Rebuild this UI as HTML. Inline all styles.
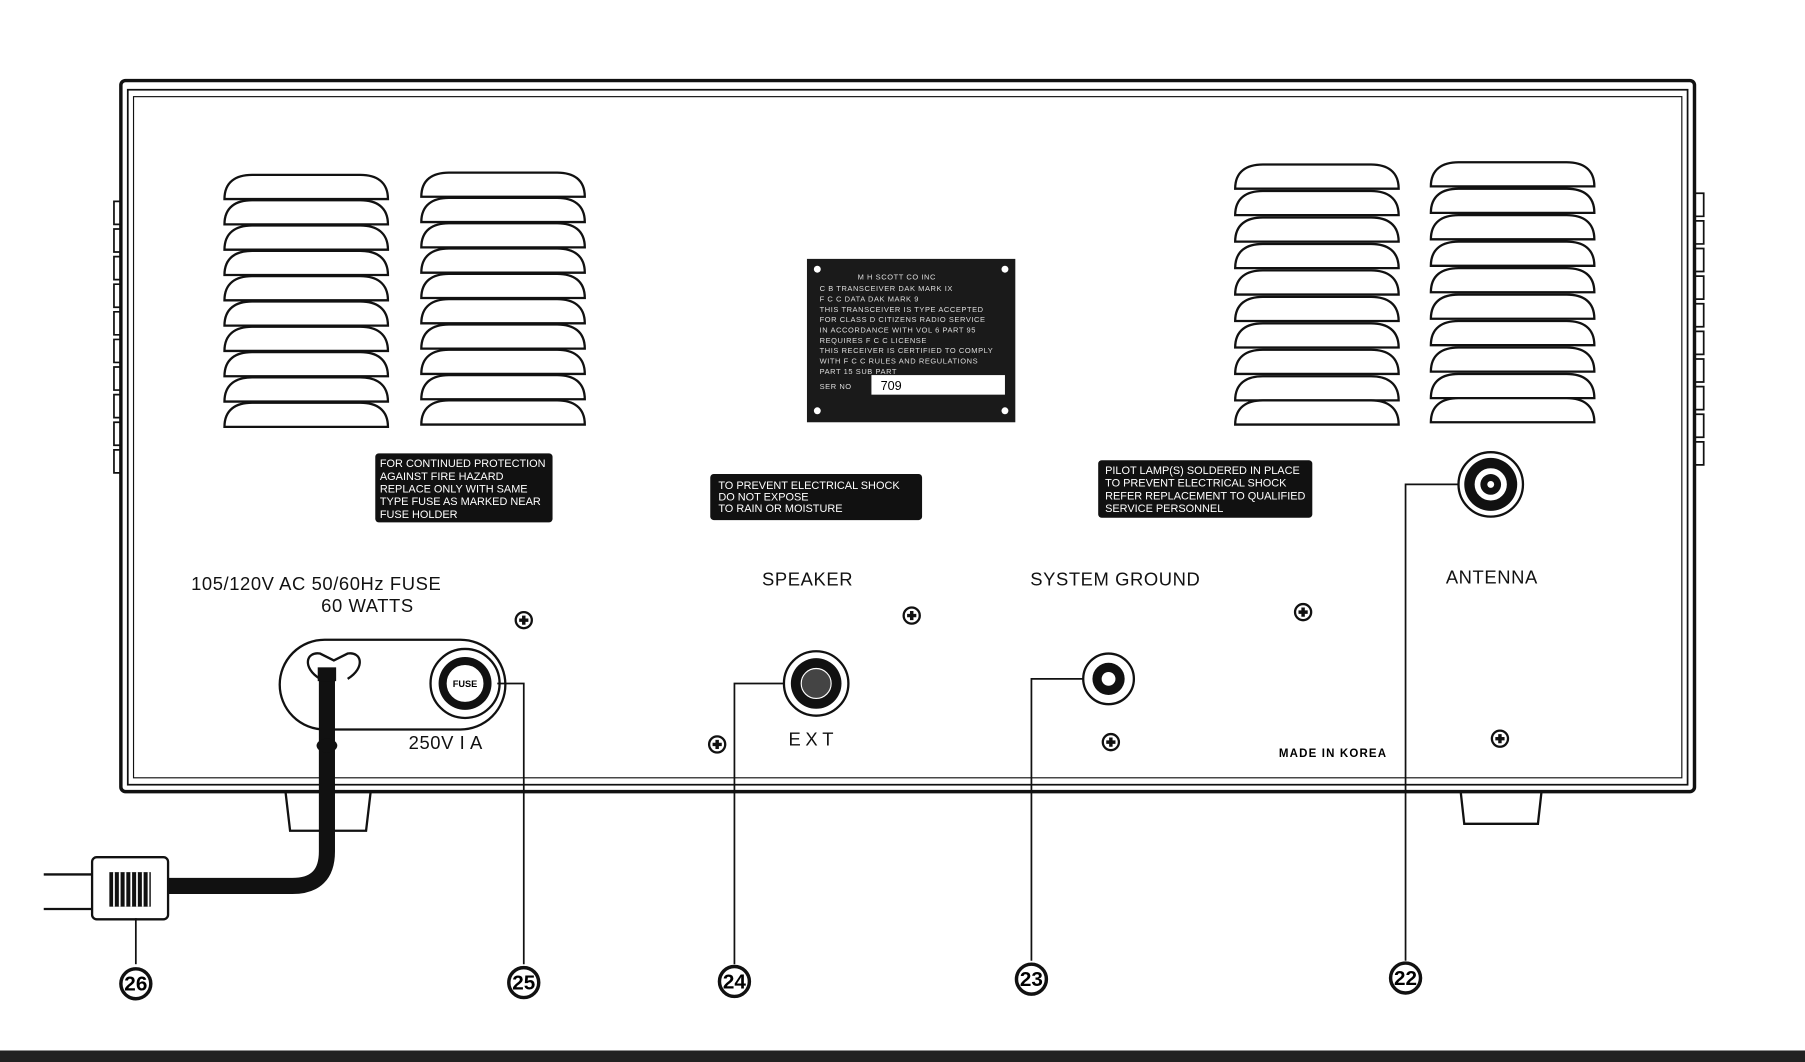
<!DOCTYPE html>
<html><head><style>html,body{margin:0;padding:0;background:#fff;overflow:hidden}svg{display:block}</style></head><body>
<svg width="1805" height="1062" viewBox="0 0 1568 923" preserveAspectRatio="none" xmlns="http://www.w3.org/2000/svg" font-family="Liberation Sans, sans-serif">
<defs>
<g id="lv"><path d="M0,21 C0,6 10,0 24,0 L118,0 C132,0 142,6 142,21 Z" fill="#fff" stroke="#111" stroke-width="2"/></g>
<g id="scr"><circle r="7" fill="#fff" stroke="#111" stroke-width="2"/><path d="M-4,0 H4 M0,-4 V4" stroke="#111" stroke-width="3"/></g>
</defs>
<rect width="1568" height="923" fill="#fff"/>
<g fill="#fff" stroke="#111" stroke-width="1.5">
<path d="M107,175 h-8 v20 h8 v4 h-8 v20 h8 v4 h-8 v20 h8 v4 h-8 v20 h8 v4 h-8 v20 h8 v4 h-8 v20 h8 v4 h-8 v20 h8 v4 h-8 v20 h8 v4 h-8 v20 h8 v4 h-8 v20 h8"/>
<path d="M1472,168 h8 v20 h-8 v4 h8 v20 h-8 v4 h8 v20 h-8 v4 h8 v20 h-8 v4 h8 v20 h-8 v4 h8 v20 h-8 v4 h8 v20 h-8 v4 h8 v20 h-8 v4 h8 v20 h-8 v4 h8 v20 h-8"/>
</g>
<path d="M248,688 L252,722 L318,722 L322,688" fill="#fff" stroke="#111" stroke-width="2"/>
<path d="M1268,680 L1272,716 L1336,716 L1340,680" fill="#fff" stroke="#111" stroke-width="2"/>
<rect x="105" y="70" width="1367" height="618" rx="4" fill="#fff" stroke="#111" stroke-width="3"/>
<rect x="111" y="78" width="1355" height="604" fill="none" stroke="#111" stroke-width="1.5"/>
<rect x="116" y="84" width="1345" height="592" fill="none" stroke="#111" stroke-width="1"/>
<g>
<use href="#lv" x="195" y="152"/><use href="#lv" x="195" y="174"/><use href="#lv" x="195" y="196"/><use href="#lv" x="195" y="218"/><use href="#lv" x="195" y="240"/><use href="#lv" x="195" y="262"/><use href="#lv" x="195" y="284"/><use href="#lv" x="195" y="306"/><use href="#lv" x="195" y="328"/><use href="#lv" x="195" y="350"/>
<use href="#lv" x="366" y="150"/><use href="#lv" x="366" y="172"/><use href="#lv" x="366" y="194"/><use href="#lv" x="366" y="216"/><use href="#lv" x="366" y="238"/><use href="#lv" x="366" y="260"/><use href="#lv" x="366" y="282"/><use href="#lv" x="366" y="304"/><use href="#lv" x="366" y="326"/><use href="#lv" x="366" y="348"/>
<use href="#lv" x="1073" y="143"/><use href="#lv" x="1073" y="166"/><use href="#lv" x="1073" y="189"/><use href="#lv" x="1073" y="212"/><use href="#lv" x="1073" y="235"/><use href="#lv" x="1073" y="258"/><use href="#lv" x="1073" y="281"/><use href="#lv" x="1073" y="304"/><use href="#lv" x="1073" y="327"/><use href="#lv" x="1073" y="348"/>
<use href="#lv" x="1243" y="141"/><use href="#lv" x="1243" y="164"/><use href="#lv" x="1243" y="187"/><use href="#lv" x="1243" y="210"/><use href="#lv" x="1243" y="233"/><use href="#lv" x="1243" y="256"/><use href="#lv" x="1243" y="279"/><use href="#lv" x="1243" y="302"/><use href="#lv" x="1243" y="325"/><use href="#lv" x="1243" y="346"/>
</g>
<rect x="701" y="225" width="181" height="142" fill="#1a1a1a"/>
<g fill="#fff"><circle cx="710" cy="234" r="3"/><circle cx="873" cy="234" r="3"/><circle cx="710" cy="357" r="3"/><circle cx="873" cy="357" r="3"/></g>
<g fill="#ddd" font-size="6.5" letter-spacing="0.5">
<text x="745" y="243">M H SCOTT CO INC</text>
<text x="712" y="253">C B TRANSCEIVER DAK MARK IX</text>
<text x="712" y="262">F C C DATA  DAK MARK 9</text>
<text x="712" y="271">THIS TRANSCEIVER IS TYPE ACCEPTED</text>
<text x="712" y="280">FOR CLASS D CITIZENS RADIO SERVICE</text>
<text x="712" y="289">IN ACCORDANCE WITH VOL 6 PART 95</text>
<text x="712" y="298">REQUIRES F C C LICENSE</text>
<text x="712" y="307">THIS RECEIVER IS CERTIFIED TO COMPLY</text>
<text x="712" y="316">WITH F C C RULES AND REGULATIONS</text>
<text x="712" y="325">PART 15 SUB PART</text>
<text x="712" y="338">SER NO</text>
</g>
<rect x="757" y="326" width="116" height="17" fill="#fff"/>
<text x="765" y="339" font-size="11">709</text>
<rect x="326" y="394" width="154" height="60" rx="3" fill="#111"/>
<g fill="#fff" font-size="9.5"><text x="330" y="406">FOR CONTINUED PROTECTION</text><text x="330" y="417">AGAINST FIRE HAZARD</text><text x="330" y="428">REPLACE ONLY WITH SAME</text><text x="330" y="439">TYPE FUSE AS MARKED NEAR</text><text x="330" y="450">FUSE HOLDER</text></g>
<rect x="617" y="412" width="184" height="40" rx="3" fill="#111"/>
<g fill="#fff" font-size="9.5"><text x="624" y="425">TO PREVENT ELECTRICAL SHOCK</text><text x="624" y="435">DO NOT EXPOSE</text><text x="624" y="445">TO RAIN OR MOISTURE</text></g>
<rect x="954" y="400" width="186" height="50" rx="3" fill="#111"/>
<g fill="#fff" font-size="9.5"><text x="960" y="412">PILOT LAMP(S) SOLDERED IN PLACE</text><text x="960" y="423">TO PREVENT ELECTRICAL SHOCK</text><text x="960" y="434">REFER REPLACEMENT TO QUALIFIED</text><text x="960" y="445">SERVICE PERSONNEL</text></g>
<g fill="#111" font-size="16" letter-spacing="0.5">
<text x="166" y="513">105/120V AC 50/60Hz  FUSE</text>
<text x="279" y="532">60 WATTS</text>
<text x="662" y="509">SPEAKER</text>
<text x="895" y="509">SYSTEM GROUND</text>
<text x="1256" y="507">ANTENNA</text>
<text x="355" y="651">250V I A</text>
<text x="685" y="648" letter-spacing="4">EXT</text>
</g>
<text x="1111" y="658" font-size="10" font-weight="bold" letter-spacing="1">MADE IN KOREA</text>
<use href="#scr" x="455" y="539"/><use href="#scr" x="792" y="535"/><use href="#scr" x="1132" y="532"/>
<use href="#scr" x="623" y="647"/><use href="#scr" x="965" y="645"/><use href="#scr" x="1303" y="642"/>
<rect x="243" y="556" width="196" height="78" rx="39" fill="#fff" stroke="#111" stroke-width="2"/>
<path d="M278,590 C262,580 266,566 278,568 L290,574 L302,568 C314,566 318,580 302,590" fill="none" stroke="#111" stroke-width="2"/>
<circle cx="404" cy="594" r="30" fill="#fff" stroke="#111" stroke-width="2"/>
<circle cx="404" cy="594" r="23" fill="#111"/>
<circle cx="404" cy="594" r="17" fill="#fff" stroke="#111" stroke-width="2"/>
<text x="404" y="597" font-size="8" font-weight="bold" text-anchor="middle">FUSE</text>
<path d="M284,585 L284,740 Q284,770 254,770 L145,770" fill="none" stroke="#111" stroke-width="14"/>
<ellipse cx="284" cy="648" rx="9" ry="6" fill="#111"/>
<rect x="276" y="580" width="16" height="12" fill="#111"/>
<rect x="80" y="745" width="66" height="54" rx="4" fill="#fff" stroke="#111" stroke-width="2"/>
<rect x="95" y="758" width="36" height="30" fill="#111"/>
<g stroke="#fff" stroke-width="1.5"><path d="M99,758v30M104,758v30M109,758v30M114,758v30M119,758v30M124,758v30M129,758v30"/></g>
<path d="M38,760 H80 M38,790 H80" stroke="#111" stroke-width="2"/>
<circle cx="709" cy="594" r="28" fill="#fff" stroke="#111" stroke-width="2"/>
<circle cx="709" cy="594" r="22" fill="#111"/>
<circle cx="709" cy="594" r="13" fill="#444" stroke="#fff" stroke-width="1"/>
<circle cx="963" cy="590" r="22" fill="#fff" stroke="#111" stroke-width="2"/>
<circle cx="963" cy="590" r="14" fill="#111"/>
<circle cx="963" cy="590" r="6" fill="#fff"/>
<circle cx="1295" cy="421" r="28" fill="#fff" stroke="#111" stroke-width="2"/>
<circle cx="1295" cy="421" r="23" fill="#111"/>
<circle cx="1295" cy="421" r="15" fill="#fff" stroke="#111" stroke-width="2"/>
<circle cx="1295" cy="421" r="9" fill="#111"/>
<circle cx="1295" cy="421" r="3" fill="#fff"/>
<g fill="none" stroke="#111" stroke-width="1.5">
<path d="M118,798 V838"/>
<path d="M432,594 H455 V838"/>
<path d="M681,594 H638 V838"/>
<path d="M941,590 H896 V835"/>
<path d="M1267,421 H1221 V835"/>
</g>
<g font-size="18" font-weight="bold" text-anchor="middle">
<circle cx="118" cy="855" r="13" fill="#fff" stroke="#111" stroke-width="3"/><text x="118" y="861">26</text>
<circle cx="455" cy="854" r="13" fill="#fff" stroke="#111" stroke-width="3"/><text x="455" y="860">25</text>
<circle cx="638" cy="853" r="13" fill="#fff" stroke="#111" stroke-width="3"/><text x="638" y="859">24</text>
<circle cx="896" cy="851" r="13" fill="#fff" stroke="#111" stroke-width="3"/><text x="896" y="857">23</text>
<circle cx="1221" cy="850" r="13" fill="#fff" stroke="#111" stroke-width="3"/><text x="1221" y="856">22</text>
</g>
<rect x="0" y="913" width="1568" height="10" fill="#222"/>
</svg>
</body></html>
